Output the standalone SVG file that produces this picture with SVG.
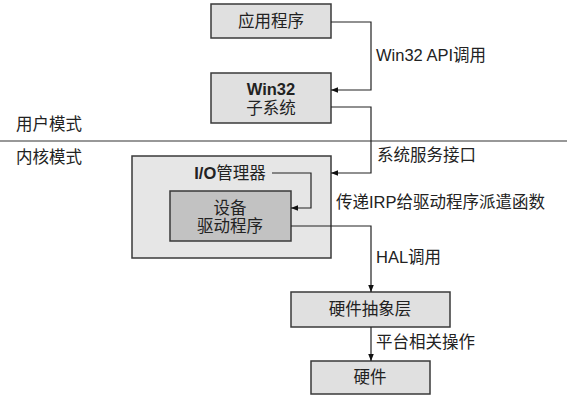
<svg xmlns="http://www.w3.org/2000/svg" width="567" height="403" viewBox="0 0 567 403">
<defs>
<marker id="arr" viewBox="0 0 10 10" refX="10" refY="5" markerWidth="7" markerHeight="7" markerUnits="userSpaceOnUse" orient="auto">
<path d="M0,1 L10,5 L0,9 z" fill="#111"/>
</marker>
<style>
.box{fill:#e0e0e0;stroke:#3a3a3a;stroke-width:1.5}
.outer{fill:#e6e6e6;stroke:#3a3a3a;stroke-width:1.5}
.inner{fill:#c2c2c2;stroke:#3a3a3a;stroke-width:1.5}
.t{font-family:"Liberation Sans","Noto Sans CJK SC",sans-serif;font-size:16.5px;fill:#222}
.c{text-anchor:middle}
.b{font-weight:bold}
.ln{fill:none;stroke:#222;stroke-width:1.2}
</style>
</defs>
<rect width="567" height="403" fill="#fff"/>
<line x1="0" y1="141" x2="567" y2="141" stroke="#333" stroke-width="1.2"/>
<text class="t" x="16" y="130">用户模式</text>
<text class="t" x="16" y="163">内核模式</text>
<g id="app"><rect class="box" x="211" y="4" width="120" height="34"/><text class="t c" x="271" y="27">应用程序</text></g>
<g id="win32"><rect class="box" x="211" y="73" width="120" height="50"/><text class="t c b" x="271" y="95">Win32</text><text class="t c" x="271" y="114">子系统</text></g>
<g id="iomgr"><rect class="outer" x="132" y="156" width="199" height="102"/><text class="t c" x="230" y="179"><tspan class="b">I/O</tspan>管理器</text></g>
<g id="driver"><rect class="inner" x="170" y="191" width="121" height="50"/><text class="t c" x="230" y="214">设备</text><text class="t c" x="230" y="232">驱动程序</text></g>
<g id="hal"><rect class="box" x="291" y="292" width="159" height="35"/><text class="t c" x="370" y="315">硬件抽象层</text></g>
<g id="hw"><rect class="box" x="311" y="361" width="119" height="33"/><text class="t c" x="370" y="383">硬件</text></g>
<g id="connectors">
<path class="ln" d="M331,22 H371 V90 H331" marker-end="url(#arr)"/>
<path class="ln" d="M331,107 H371 V173 H331" marker-end="url(#arr)"/>
<path class="ln" d="M272,173 H311 V208 H291" marker-end="url(#arr)"/>
<path class="ln" d="M291,226 H371 V292" marker-end="url(#arr)"/>
<path class="ln" d="M371,327 V361" marker-end="url(#arr)"/>
</g>
<text class="t" x="376" y="61">Win32 API调用</text>
<text class="t" x="377" y="161">系统服务接口</text>
<text class="t" x="336" y="208">传递IRP给驱动程序派遣函数</text>
<text class="t" x="376" y="263">HAL调用</text>
<text class="t" x="376" y="348">平台相关操作</text>
</svg>
